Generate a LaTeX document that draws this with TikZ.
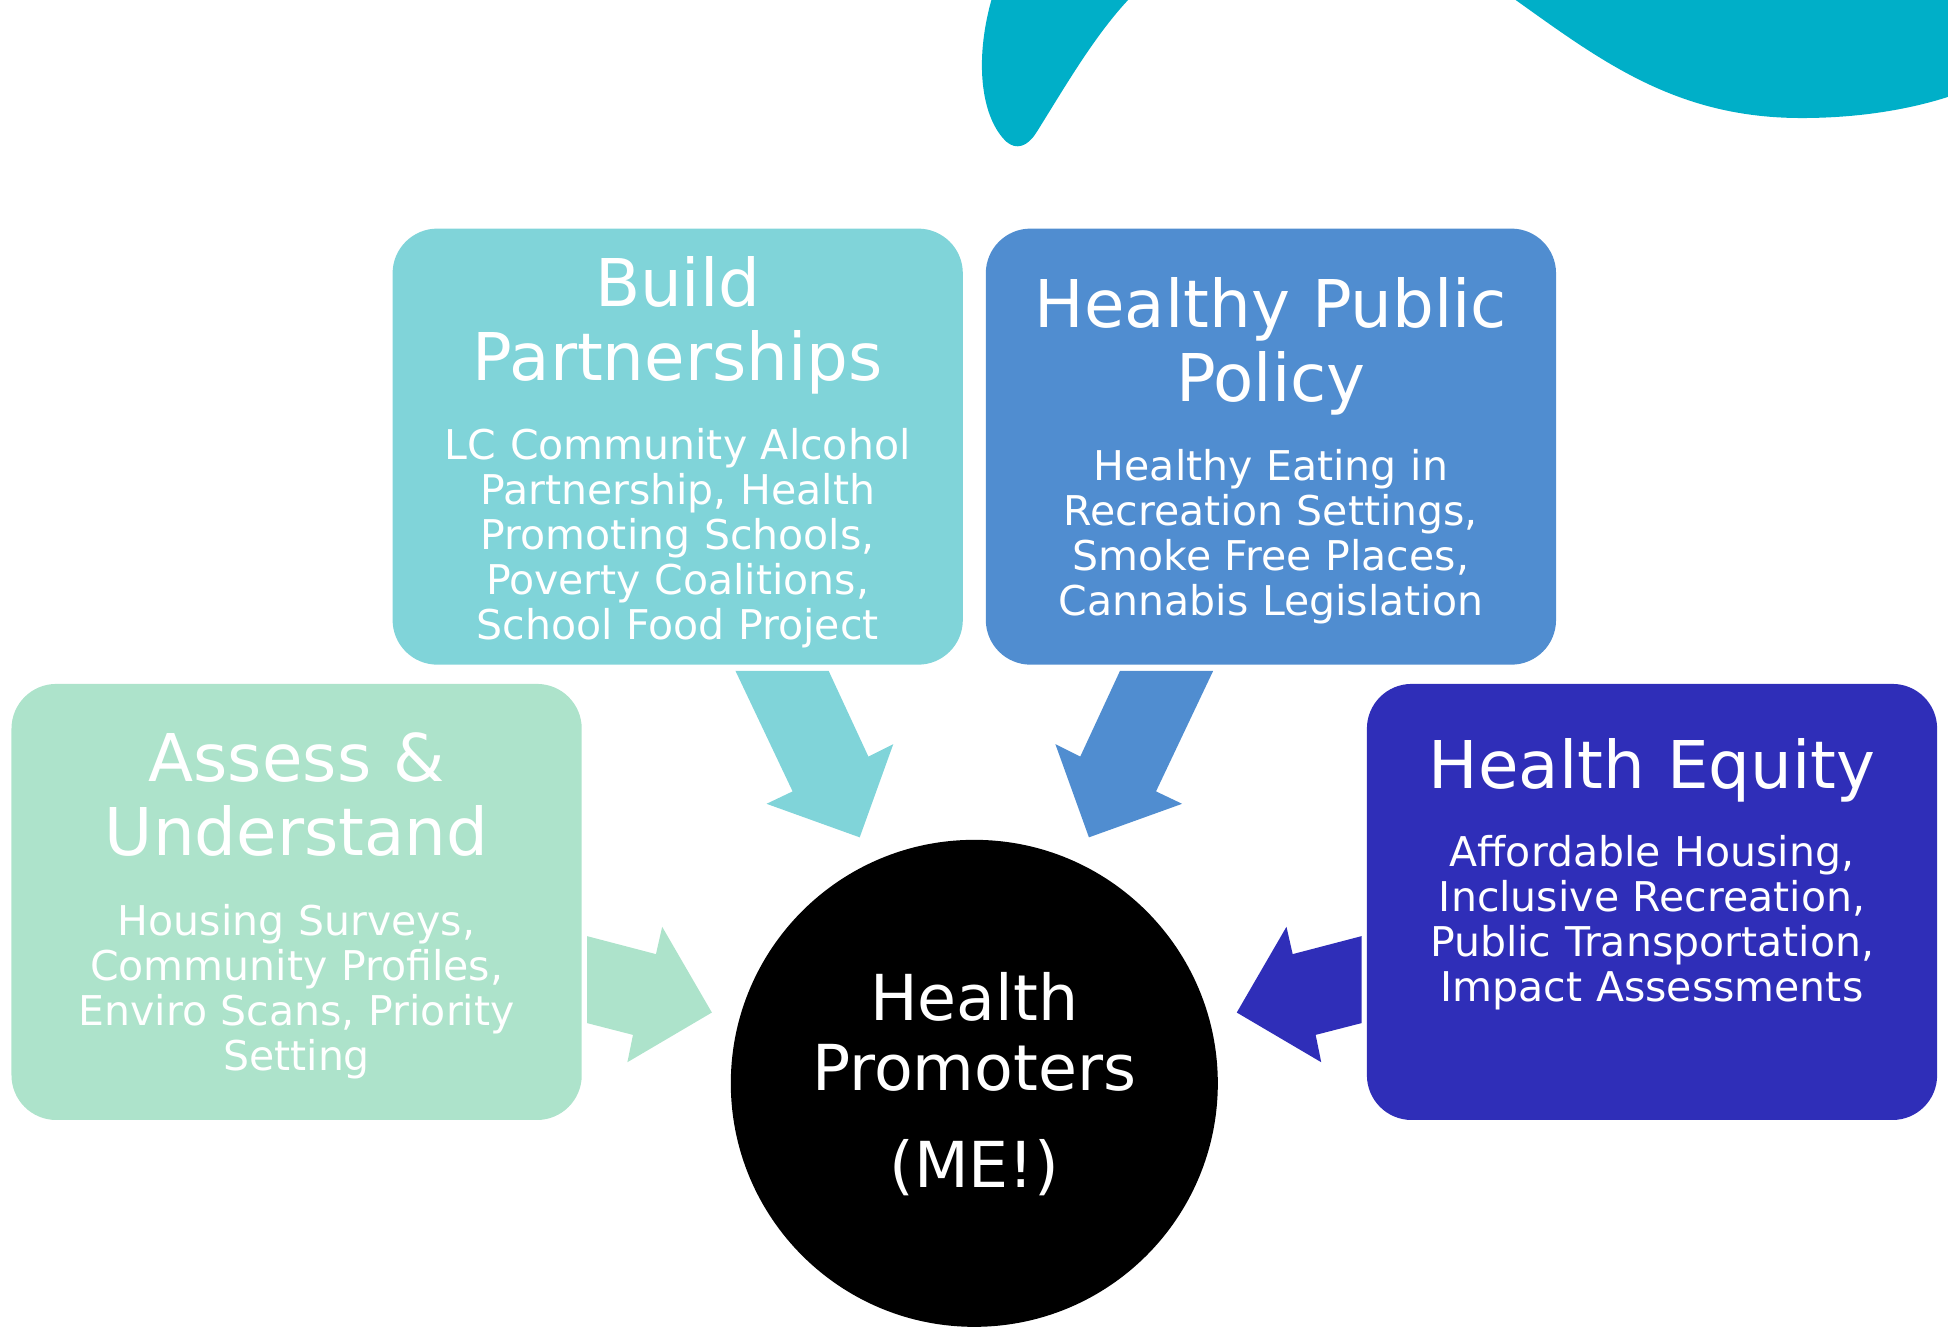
\documentclass[tikz,border=0pt]{standalone}
\usepackage{fontspec}
\setmainfont{DejaVu Sans}
\usetikzlibrary{positioning}
\definecolor{mint}{RGB}{173,227,203}
\definecolor{aqua}{RGB}{128,212,217}
\definecolor{steel}{RGB}{80,141,208}
\definecolor{indigo}{RGB}{47,46,184}
\definecolor{splash}{RGB}{0,175,200}
\tikzset{
  card/.style={rounded corners=36pt, minimum width=459pt, minimum height=351pt, inner sep=0pt},
  head/.style={text=white, text width=450pt, align=center, anchor=base, inner sep=0pt,
    font=\fontsize{53}{59.5}\selectfont},
  body/.style={text=white, text width=450pt, align=center, anchor=base, inner sep=0pt,
    font=\fontsize{33}{36.3}\selectfont},
  hub/.style={circle, fill=black, minimum size=392pt, inner sep=0pt}
}

\begin{document}
\begin{tikzpicture}[x=1pt, y=-1pt]
    \useasboundingbox (0,0) rectangle (1568,1074);
    % splash at the top
    \fill[splash] (798,0) .. controls (784,50) and (790,95) .. (810,114)
        .. controls (818,121) and (827,118) .. (834,107)
        .. controls (856,72) and (880,30) .. (908,0) -- cycle;
    \fill[splash] (1220,0) .. controls (1290,50) and (1350,95) .. (1450,95)
        .. controls (1500,95) and (1540,87) .. (1568,78) -- (1568,0) -- cycle;

    \node[card, fill=mint] (assess) at (238.75,726) {};
    \node[card, fill=aqua] (build) at (545.5,359.5) {};
    \node[card, fill=steel] (policy) at (1023,359.5) {};
    \node[card, fill=indigo] (equity) at (1329.75,726) {};
    \node[hub] (me) at (784.25,872) {};

    \node[head] (buildhead) at ([yshift=-63pt]build.north) {Build\\Partnerships};
    \node[body] (buildbody) at ([yshift=-186pt]build.north)
        {LC Community Alcohol\\Partnership, Health\\Promoting Schools,\\Poverty Coalitions,\\School Food Project};
    \node[head] (policyhead) at ([yshift=-80pt]policy.north) {Healthy Public\\Policy};
    \node[body] (policybody) at ([yshift=-203pt]policy.north)
        {Healthy Eating in\\Recreation Settings,\\Smoke Free Places,\\Cannabis Legislation};
    \node[head] (assesshead) at ([yshift=-79pt]assess.north) {Assess \&\\Understand};
    \node[body] (assessbody) at ([yshift=-202.5pt]assess.north)
        {Housing Surveys,\\Community Profiles,\\Enviro Scans, Priority\\Setting};
    \node[head] (equityhead) at ([yshift=-84pt]equity.north) {Health Equity};
    \node[body] (equitybody) at ([yshift=-147pt]equity.north)
        {Affordable Housing,\\Inclusive Recreation,\\Public Transportation,\\Impact Assessments};
    \node[head, font=\fontsize{51}{56.5}\selectfont] (metext) at ([yshift=50.4pt]me.center)
        {Health\\Promoters\\[21.5pt](ME!)};

    % block arrows into the hub
    \fill[aqua] (592,540) -- (667,540) -- (699,609) -- (719,599) -- (692,674)
        -- (617,647) -- (638,637) -- cycle;
    \fill[steel] (976.5,540) -- (901.5,540) -- (869.5,609) -- (849.5,599) -- (876.5,674)
        -- (951.5,647) -- (930.5,637) -- cycle;
    \fill[mint] (472.5,753.5) -- (528,768) -- (533,746) -- (573,815) -- (505,855)
        -- (509.5,833) -- (472.5,823.5) -- cycle;
    \fill[indigo] (1096,753.5) -- (1040.5,768) -- (1035.5,746) -- (995.5,815) -- (1063.5,855)
        -- (1059,833) -- (1096,823.5) -- cycle;
\end{tikzpicture}
\end{document}
